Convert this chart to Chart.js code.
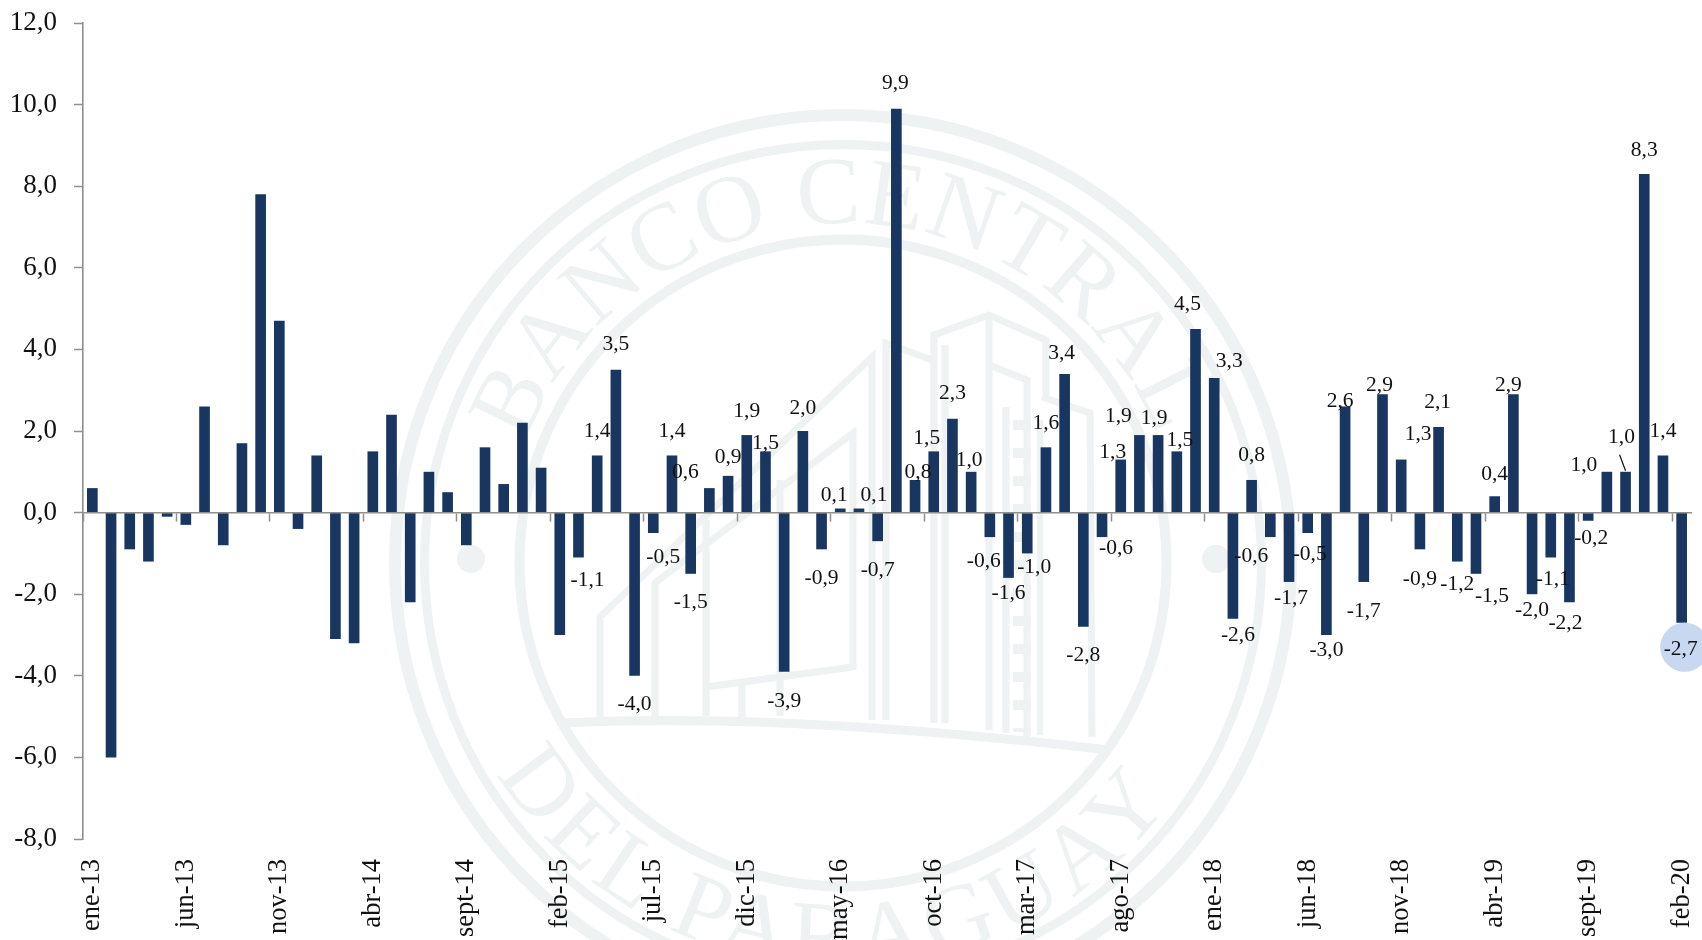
<!DOCTYPE html>
<html lang="es">
<head>
<meta charset="utf-8">
<title>Chart</title>
<script src="https://cdn.jsdelivr.net/npm/chart.js@4"></script>
<style>
html,body{margin:0;padding:0;background:#fff;width:1702px;height:940px;overflow:hidden}
#seal{position:absolute;left:0;top:0;width:1702px;height:940px}
#c{position:absolute;left:0;top:0}
</style>
</head>
<body>
<svg id="seal" viewBox="0 0 1702 940" xmlns="http://www.w3.org/2000/svg" aria-hidden="true">
  <defs>
    <path id="arcTop" d="M 503 563 A 340 340 0 0 1 1183 563 A 340 340 0 0 1 503 563" transform="rotate(-3.5 843 563)"/>
    <path id="arcBot" d="M 438 563 A 405 405 0 0 0 1248 563" transform="rotate(2 843 563)"/>
  </defs>
  <g fill="none" stroke="#eef2f2" stroke-linejoin="miter">
    <circle cx="843" cy="563" r="448" stroke-width="12"/>
    <circle cx="843" cy="563" r="418.5" stroke-width="9"/>
    <circle cx="843" cy="563" r="323.5" stroke-width="10"/>
    <g stroke-width="7">
      <path d="M564 723 Q780 712 1109 750" stroke-width="9"/>
      <path d="M600 717V617L872 357V720"/>
      <path d="M655 716V583L853 433V667L706 687"/>
      <path d="M706 716V520M742 717V683M780 716V480"/>
      <path d="M886 720V343L932 360"/>
      <path d="M934 723V335L989 315L1046 340V397"/>
      <path d="M945 723V345"/>
      <path d="M989 315V730"/>
      <path d="M989 365L1027 380V737"/>
      <path d="M1042 397L1090 413L1092 737"/>
      <path d="M1006 407V733"/>
      <path d="M1040 420V735" stroke-width="6"/>
      <path d="M1022 420V732" stroke-width="18" stroke-dasharray="10 18"/>
    </g>
  </g>
  <g fill="#eef2f2" stroke="none">
    <circle cx="471" cy="559" r="14"/>
    <circle cx="1216" cy="559" r="14"/>
    <text font-family="Liberation Serif" font-size="96" letter-spacing="1" text-anchor="middle"><textPath href="#arcTop" startOffset="25.8%">BANCO CENTRAL</textPath></text>
    <text font-family="Liberation Serif" font-size="96" letter-spacing="6.5" text-anchor="middle"><textPath href="#arcBot" startOffset="50%">DEL PARAGUAY</textPath></text>
  </g>
</svg>
<canvas id="c" width="1702" height="940"></canvas>
<script>
const months = ["ene","feb","mar","abr","may","jun","jul","ago","sept","oct","nov","dic"];
const categories = [];
for (let y = 13; y <= 20; y++) for (const m of months) if (categories.length < 86) categories.push(m + "-" + y);

const values = [
  0.6,-6.0,-0.9,-1.2,-0.1,-0.3,2.6,-0.8,1.7,7.8,4.7,-0.4,
  1.4,-3.1,-3.2,1.5,2.4,-2.2,1.0,0.5,-0.8,1.6,0.7,2.2,
  1.1,-3.0,-1.1,1.4,3.5,-4.0,-0.5,1.4,-1.5,0.6,0.9,1.9,
  1.5,-3.9,2.0,-0.9,0.1,0.1,-0.7,9.9,0.8,1.5,2.3,1.0,
  -0.6,-1.6,-1.0,1.6,3.4,-2.8,-0.6,1.3,1.9,1.9,1.5,4.5,
  3.3,-2.6,0.8,-0.6,-1.7,-0.5,-3.0,2.6,-1.7,2.9,1.3,-0.9,
  2.1,-1.2,-1.5,0.4,2.9,-2.0,-1.1,-2.2,-0.2,1.0,1.0,8.3,
  1.4,-2.7
];

// Data labels begin at this category; shifts are relative to the bar tip.
const firstLabelled = 26;
const labelShiftX = [9,0,0,0,10,0,0,-24,0,0,0,0,0,0,-6,15,0,-1,3,-7,0,-2,-6,0,7,0,-3,0,14,-8,-21,-4,3,-8,15,5,0,-19,2,2,0,-5,0,-3,17,0,-1,0,16,0,-5,0,2,-4,3,-23,-4,0,0,-1];
const labelShiftY = [23,-24,-25,29,24,-24,29,-16,-19,-24,-8,30,-23,29,-13,-13,29,-25,-8,-13,-25,-11,24,15,14,-24,-21,29,11,-7,-19,-17,-11,-25,-17,17,-25,19,16,21,15,-5,29,-9,-25,30,-25,23,23,-22,-9,16,22,21,18,-6,-34,-24,-24,27];
const highlightIndex = 85;
const leaderIndex = 82;

const ink = "#111111";
const axisGrey = "#8f8f8f";
const serif = '"Liberation Serif", serif';

const fmt = v => v.toFixed(1).replace(".", ",");

const barLabels = {
  id: "barLabels",
  afterDatasetsDraw(chart) {
    const { ctx, scales: { x, y } } = chart;
    ctx.save();
    const hx = x.getPixelForValue(highlightIndex), hy = y.getPixelForValue(values[highlightIndex]);
    ctx.fillStyle = "#c8d8f0";
    ctx.beginPath();
    ctx.arc(hx + 3, hy + 24.5, 24.5, 0, Math.PI * 2);
    ctx.fill();

    ctx.font = "21.5px " + serif;
    ctx.fillStyle = ink;
    ctx.textAlign = "center";
    ctx.textBaseline = "middle";
    for (let i = firstLabelled; i < values.length; i++) {
      const k = i - firstLabelled;
      const px = x.getPixelForValue(i), py = y.getPixelForValue(values[i]);
      ctx.fillText(fmt(values[i]), px + labelShiftX[k], py + labelShiftY[k]);
    }
    const lx = x.getPixelForValue(leaderIndex), ly = y.getPixelForValue(values[leaderIndex]);
    ctx.strokeStyle = "#111";
    ctx.lineWidth = 1.2;
    ctx.beginPath();
    ctx.moveTo(lx - 6, ly - 17);
    ctx.lineTo(lx, ly - 1);
    ctx.stroke();
    ctx.restore();
  }
};

const noSidePadding = s => { s.paddingLeft = 0; s.paddingRight = 0; s.paddingTop = 0; s.paddingBottom = 0; };

new Chart(document.getElementById("c"), {
  type: "bar",
  data: {
    labels: categories,
    datasets: [{
      data: values,
      backgroundColor: "#18365f",
      borderWidth: 0,
      barPercentage: 0.57,
      categoryPercentage: 1
    }]
  },
  plugins: [barLabels],
  options: {
    responsive: false,
    animation: false,
    layout: { autoPadding: false, padding: { top: 23, right: 11, left: 0, bottom: 0 } },
    plugins: { legend: { display: false }, tooltip: { enabled: false } },
    scales: {
      x: {
        type: "category",
        axis: "x",
        position: { y: 0 },
        offset: true,
        border: { color: axisGrey, width: 1.6, z: 1 },
        grid: {
          offset: true,
          drawOnChartArea: false,
          drawTicks: true,
          tickLength: 8,
          tickWidth: 1.5,
          tickColor: c => (c.index % 5 === 0 ? axisGrey : "rgba(0,0,0,0)")
        },
        afterFit: s => { s.height = 0; noSidePadding(s); },
        ticks: { display: false, autoSkip: false }
      },
      x2: {
        type: "category",
        axis: "x",
        position: "bottom",
        labels: categories,
        offset: true,
        border: { display: false },
        grid: { display: false },
        afterFit: s => { s.height = 101; noSidePadding(s); },
        ticks: {
          autoSkip: false,
          minRotation: 90,
          maxRotation: 90,
          padding: 12,
          color: ink,
          font: { family: serif, size: 26.5 },
          callback: (v, i) => (i % 5 === 0 ? categories[i] : "")
        }
      },
      y: {
        type: "linear",
        position: "left",
        min: -8,
        max: 12,
        border: { color: axisGrey, width: 1.6 },
        grid: { drawOnChartArea: false, tickLength: 9, tickWidth: 1.5, tickColor: axisGrey },
        afterFit: s => { s.width = 83; noSidePadding(s); },
        ticks: {
          stepSize: 2,
          padding: 17,
          color: ink,
          font: { family: serif, size: 27 },
          callback: v => fmt(v)
        }
      }
    }
  }
});
</script>
</body>
</html>
